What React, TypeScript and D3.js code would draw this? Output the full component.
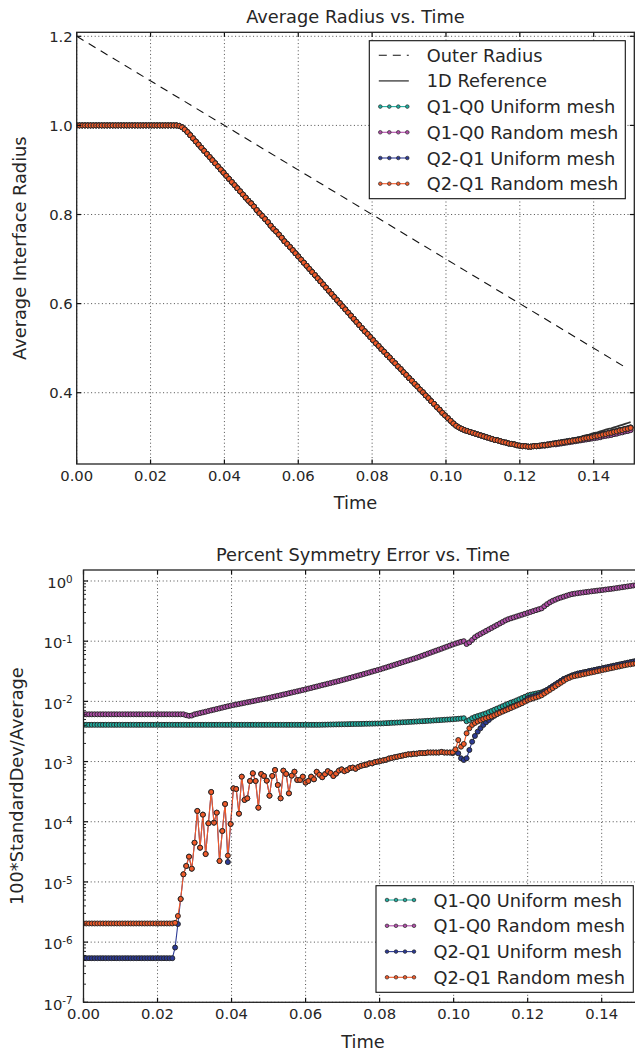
import React, { useEffect, useRef } from 'react';
import * as d3 from 'd3';

// time between saved frames of the run
const TIME_STEP = 0.00075;

const TIME_TICKS = [0, 0.02, 0.04, 0.06, 0.08, 0.1, 0.12, 0.14];
const RADIUS_TICKS = [0.4, 0.6, 0.8, 1.0, 1.2];
const ERROR_EXPONENTS = [-7, -6, -5, -4, -3, -2, -1, 0];

const MESH_LABELS = ['Q1-Q0 Uniform mesh', 'Q1-Q0 Random mesh', 'Q2-Q1 Uniform mesh', 'Q2-Q1 Random mesh'];
const MESH_COLORS = ['#1fad9f', '#b14da9', '#2c3a95', '#f15a29'];

// outer radius, dashed line: [time], [radius]
const outerRadiusTime = [0, 0.148];
const outerRadiusValue = [1.2, 0.46];

// average interface radius, identical for every run up to t ~ 0.125
const radiusCommon = [
  1, 1, 1, 1, 1, 1, 1, 1, 1, 1,
  1, 1, 1, 1, 1, 1, 1, 1, 1, 1,
  1, 1, 1, 1, 1, 1, 1, 1, 1, 1,
  1, 1, 1, 1, 1, 1, 1, 0.999, 0.996, 0.991,
  0.985, 0.978, 0.971, 0.964, 0.957, 0.950, 0.943, 0.936, 0.929, 0.922,
  0.915, 0.908, 0.901, 0.894, 0.887, 0.880, 0.873, 0.866, 0.859, 0.852,
  0.845, 0.838, 0.831, 0.825, 0.818, 0.810, 0.803, 0.797, 0.790, 0.783,
  0.775, 0.768, 0.762, 0.755, 0.748, 0.740, 0.734, 0.727, 0.720, 0.713,
  0.706, 0.699, 0.692, 0.685, 0.678, 0.671, 0.664, 0.657, 0.650, 0.643,
  0.636, 0.629, 0.622, 0.615, 0.608, 0.601, 0.594, 0.587, 0.580, 0.573,
  0.566, 0.559, 0.552, 0.545, 0.538, 0.532, 0.525, 0.518, 0.511, 0.505,
  0.498, 0.492, 0.485, 0.479, 0.472, 0.466, 0.459, 0.453, 0.446, 0.440,
  0.433, 0.427, 0.420, 0.414, 0.407, 0.401, 0.394, 0.388, 0.381, 0.375,
  0.368, 0.362, 0.355, 0.349, 0.343, 0.337, 0.331, 0.326, 0.322, 0.319,
  0.316, 0.314, 0.312, 0.310, 0.308, 0.306, 0.304, 0.302, 0.300, 0.298,
  0.296, 0.294, 0.293, 0.291, 0.289, 0.288, 0.286, 0.285, 0.284, 0.282,
  0.281, 0.280, 0.280, 0.279, 0.279, 0.280, 0.280,
];
// the last 34 frames, where the runs drift apart a little
const radiusTail1D = [
  0.282, 0.283, 0.284, 0.285, 0.286, 0.287, 0.289, 0.290, 0.291, 0.293,
  0.294, 0.295, 0.297, 0.298, 0.300, 0.301, 0.303, 0.305, 0.306, 0.308,
  0.310, 0.311, 0.313, 0.315, 0.317, 0.319, 0.320, 0.322, 0.324, 0.326,
  0.328, 0.330, 0.332, 0.334,
];
const radiusTailUniform = [
  0.281, 0.282, 0.283, 0.284, 0.285, 0.286, 0.287, 0.288, 0.289, 0.290,
  0.291, 0.292, 0.293, 0.294, 0.295, 0.296, 0.298, 0.299, 0.300, 0.301,
  0.303, 0.304, 0.305, 0.307, 0.308, 0.310, 0.311, 0.313, 0.314, 0.316,
  0.317, 0.319, 0.320, 0.322,
];
const radiusTailQ1Q0Random = [
  0.280, 0.281, 0.281, 0.282, 0.283, 0.284, 0.284, 0.285, 0.286, 0.287,
  0.288, 0.289, 0.290, 0.291, 0.292, 0.293, 0.294, 0.295, 0.296, 0.297,
  0.298, 0.299, 0.300, 0.302, 0.303, 0.304, 0.305, 0.307, 0.308, 0.310,
  0.311, 0.313, 0.314, 0.316,
];
const radiusTailQ2Q1Random = [
  0.281, 0.282, 0.282, 0.283, 0.284, 0.285, 0.286, 0.287, 0.288, 0.289,
  0.290, 0.291, 0.292, 0.293, 0.294, 0.295, 0.297, 0.298, 0.299, 0.300,
  0.302, 0.303, 0.304, 0.306, 0.307, 0.309, 0.310, 0.312, 0.313, 0.315,
  0.316, 0.318, 0.319, 0.321,
];

// symmetry error, read as log10 of 100*StandardDev/Average
const errQ1Q0UniformLog10 = [
  -2.39, -2.39, -2.39, -2.39, -2.39, -2.39, -2.39, -2.39, -2.39, -2.39,
  -2.39, -2.39, -2.39, -2.39, -2.39, -2.39, -2.39, -2.39, -2.39, -2.39,
  -2.39, -2.39, -2.39, -2.39, -2.39, -2.39, -2.39, -2.39, -2.39, -2.39,
  -2.39, -2.39, -2.39, -2.39, -2.39, -2.39, -2.39, -2.39, -2.39, -2.39,
  -2.39, -2.39, -2.39, -2.39, -2.39, -2.39, -2.39, -2.39, -2.39, -2.39,
  -2.39, -2.39, -2.39, -2.39, -2.39, -2.39, -2.39, -2.39, -2.39, -2.39,
  -2.39, -2.39, -2.39, -2.39, -2.39, -2.39, -2.39, -2.39, -2.39, -2.39,
  -2.39, -2.39, -2.39, -2.39, -2.39, -2.39, -2.39, -2.39, -2.39, -2.39,
  -2.39, -2.39, -2.39, -2.39, -2.39, -2.39, -2.388, -2.387, -2.386, -2.385,
  -2.384, -2.383, -2.382, -2.381, -2.38, -2.379, -2.378, -2.377, -2.376, -2.375,
  -2.374, -2.373, -2.372, -2.371, -2.37, -2.369, -2.368, -2.367, -2.365, -2.362,
  -2.36, -2.357, -2.355, -2.352, -2.35, -2.347, -2.345, -2.342, -2.34, -2.337,
  -2.335, -2.332, -2.33, -2.327, -2.324, -2.321, -2.318, -2.315, -2.312, -2.309,
  -2.306, -2.303, -2.30, -2.297, -2.293, -2.289, -2.285, -2.28, -2.33, -2.31,
  -2.28, -2.26, -2.245, -2.23, -2.215, -2.20, -2.18, -2.16, -2.14, -2.12,
  -2.10, -2.08, -2.06, -2.04, -2.02, -2.005, -1.985, -1.965, -1.945, -1.925,
  -1.905, -1.89, -1.88, -1.87, -1.86, -1.85, -1.83, -1.81, -1.78, -1.75,
  -1.72, -1.69, -1.66, -1.63, -1.61, -1.59, -1.57, -1.555, -1.54, -1.53,
  -1.52, -1.51, -1.50, -1.49, -1.48, -1.47, -1.46, -1.45, -1.44, -1.43,
  -1.42, -1.41, -1.40, -1.39, -1.38, -1.37, -1.36, -1.35, -1.34, -1.33,
  -1.32,
];
const errQ1Q0RandomLog10 = [
  -2.215, -2.215, -2.215, -2.215, -2.215, -2.215, -2.215, -2.215, -2.215, -2.215,
  -2.215, -2.215, -2.215, -2.215, -2.215, -2.215, -2.215, -2.215, -2.215, -2.215,
  -2.215, -2.215, -2.215, -2.215, -2.215, -2.215, -2.215, -2.215, -2.215, -2.215,
  -2.215, -2.215, -2.215, -2.215, -2.215, -2.215, -2.215, -2.23, -2.24, -2.235,
  -2.216, -2.205, -2.194, -2.183, -2.172, -2.160, -2.149, -2.138, -2.127, -2.116,
  -2.104, -2.093, -2.082, -2.071, -2.062, -2.053, -2.043, -2.034, -2.025, -2.015,
  -2.006, -1.997, -1.987, -1.978, -1.969, -1.960, -1.950, -1.940, -1.929, -1.918,
  -1.908, -1.897, -1.886, -1.876, -1.865, -1.854, -1.843, -1.833, -1.822, -1.811,
  -1.800, -1.788, -1.777, -1.765, -1.754, -1.742, -1.730, -1.719, -1.707, -1.696,
  -1.684, -1.672, -1.661, -1.649, -1.636, -1.623, -1.610, -1.597, -1.584, -1.571,
  -1.558, -1.545, -1.532, -1.519, -1.505, -1.492, -1.479, -1.466, -1.451, -1.437,
  -1.422, -1.407, -1.393, -1.378, -1.364, -1.349, -1.334, -1.320, -1.305, -1.290,
  -1.276, -1.259, -1.242, -1.225, -1.208, -1.191, -1.174, -1.157, -1.141, -1.124,
  -1.107, -1.090, -1.073, -1.056, -1.040, -1.025, -1.010, -1.000, -1.047, -1.02,
  -0.98, -0.935, -0.905, -0.88, -0.855, -0.83, -0.805, -0.78, -0.755, -0.73,
  -0.705, -0.68, -0.655, -0.635, -0.62, -0.605, -0.59, -0.575, -0.56, -0.545,
  -0.53, -0.515, -0.50, -0.485, -0.47, -0.455, -0.42, -0.385, -0.355, -0.33,
  -0.31, -0.29, -0.275, -0.26, -0.245, -0.23, -0.218, -0.21, -0.203, -0.196,
  -0.19, -0.184, -0.178, -0.172, -0.166, -0.16, -0.155, -0.149, -0.143, -0.137,
  -0.131, -0.125, -0.118, -0.111, -0.104, -0.097, -0.09, -0.083, -0.076, -0.069,
  -0.062,
];
const errQ2Q1UniformLog10 = [
  -6.267, -6.267, -6.267, -6.267, -6.267, -6.267, -6.267, -6.267, -6.267, -6.267,
  -6.267, -6.267, -6.267, -6.267, -6.267, -6.267, -6.267, -6.267, -6.267, -6.267,
  -6.267, -6.267, -6.267, -6.267, -6.267, -6.267, -6.267, -6.267, -6.267, -6.267,
  -6.267, -6.267, -6.267, -6.09, -5.70, -5.283, -4.873, -4.735, -4.58, -4.78,
  -4.348, -3.821, -4.431, -3.882, -4.536, -4.026, -3.506, -4.015, -3.849, -4.652,
  -4.154, -3.705, -4.67, -4.037, -3.445, -3.456, -3.866, -3.251, -3.638, -3.611,
  -3.323, -3.195, -3.323, -3.766, -3.206, -3.239, -3.317, -3.567, -3.239, -3.14,
  -3.389, -3.611, -3.151, -3.206, -3.528, -3.234, -3.168, -3.306, -3.306, -3.251,
  -3.35, -3.323, -3.251, -3.295, -3.17, -3.22, -3.26, -3.21, -3.16, -3.19,
  -3.24, -3.20, -3.15, -3.13, -3.16, -3.14, -3.11, -3.10, -3.12, -3.09,
  -3.07, -3.06, -3.05, -3.03, -3.03, -3.01, -3.00, -2.99, -2.98, -2.97,
  -2.95, -2.94, -2.93, -2.92, -2.91, -2.90, -2.89, -2.88, -2.88, -2.87,
  -2.87, -2.86, -2.86, -2.86, -2.85, -2.85, -2.85, -2.85, -2.85, -2.84,
  -2.85, -2.85, -2.85, -2.86, -2.835, -2.863, -2.946, -2.974, -2.946, -2.808,
  -2.67, -2.575, -2.503, -2.447, -2.392, -2.348, -2.31, -2.27, -2.24, -2.21,
  -2.18, -2.16, -2.14, -2.12, -2.10, -2.08, -2.06, -2.04, -2.02, -1.99,
  -1.95, -1.935, -1.92, -1.905, -1.89, -1.87, -1.84, -1.81, -1.78, -1.75,
  -1.72, -1.69, -1.66, -1.63, -1.61, -1.59, -1.57, -1.555, -1.54, -1.53,
  -1.52, -1.51, -1.50, -1.49, -1.48, -1.47, -1.46, -1.45, -1.44, -1.43,
  -1.42, -1.41, -1.40, -1.39, -1.38, -1.37, -1.36, -1.35, -1.34, -1.33,
  -1.32,
];
const errQ2Q1RandomLog10 = [
  -5.69, -5.69, -5.69, -5.69, -5.69, -5.69, -5.69, -5.69, -5.69, -5.69,
  -5.69, -5.69, -5.69, -5.69, -5.69, -5.69, -5.69, -5.69, -5.69, -5.69,
  -5.69, -5.69, -5.69, -5.69, -5.69, -5.69, -5.69, -5.69, -5.69, -5.69,
  -5.69, -5.69, -5.69, -5.68, -5.566, -5.283, -4.873, -4.735, -4.58, -4.78,
  -4.348, -3.821, -4.431, -3.882, -4.536, -4.026, -3.506, -4.015, -3.849, -4.652,
  -4.154, -3.705, -4.563, -4.037, -3.445, -3.456, -3.866, -3.251, -3.638, -3.611,
  -3.323, -3.195, -3.323, -3.766, -3.206, -3.239, -3.317, -3.567, -3.239, -3.14,
  -3.389, -3.611, -3.151, -3.206, -3.528, -3.234, -3.168, -3.306, -3.306, -3.251,
  -3.35, -3.323, -3.251, -3.295, -3.17, -3.22, -3.26, -3.21, -3.16, -3.19,
  -3.24, -3.20, -3.15, -3.13, -3.16, -3.14, -3.11, -3.10, -3.12, -3.09,
  -3.07, -3.06, -3.05, -3.03, -3.03, -3.01, -3.00, -2.99, -2.98, -2.97,
  -2.95, -2.94, -2.93, -2.92, -2.91, -2.90, -2.89, -2.88, -2.88, -2.87,
  -2.87, -2.86, -2.86, -2.86, -2.85, -2.85, -2.85, -2.85, -2.85, -2.84,
  -2.85, -2.85, -2.85, -2.846, -2.797, -2.642, -2.753, -2.708, -2.53, -2.447,
  -2.392, -2.36, -2.335, -2.315, -2.295, -2.28, -2.265, -2.25, -2.23, -2.21,
  -2.19, -2.17, -2.15, -2.13, -2.11, -2.09, -2.07, -2.05, -2.03, -2.005,
  -1.98, -1.965, -1.95, -1.935, -1.92, -1.90, -1.87, -1.84, -1.81, -1.78,
  -1.75, -1.72, -1.69, -1.66, -1.63, -1.61, -1.59, -1.58, -1.57, -1.56,
  -1.55, -1.54, -1.53, -1.52, -1.51, -1.50, -1.49, -1.48, -1.47, -1.46,
  -1.45, -1.44, -1.43, -1.42, -1.41, -1.40, -1.39, -1.385, -1.375, -1.37,
  -1.36,
];

const FONT = 'DejaVu Sans';
const INK = '#262626';
const LABEL_SIZE = 17.8;
const TICK_SIZE = 14.8;

const W = 635;
const H = 1053;
const TOP_BOX = { left: 76.7, right: 634.3, top: 32.3, bottom: 464 };
const BOT_BOX = { left: 83.5, right: 642.4, top: 570, bottom: 1002.3 };

function drawFrame(g, box, x, y, yTicks, minorTicks, fmtY, clipId) {
  g.append('clipPath').attr('id', clipId)
    .append('rect')
    .attr('x', box.left).attr('y', box.top)
    .attr('width', box.right - box.left).attr('height', box.bottom - box.top);

  // dotted grid
  const grid = g.append('g').attr('class', 'grid')
    .attr('stroke', '#3a3a3a').attr('stroke-width', 0.9).attr('stroke-dasharray', '1,2.6');
  TIME_TICKS.forEach(t => {
    grid.append('line').attr('x1', x(t)).attr('x2', x(t)).attr('y1', box.top).attr('y2', box.bottom);
  });
  yTicks.forEach(v => {
    grid.append('line').attr('x1', box.left).attr('x2', box.right).attr('y1', y(v)).attr('y2', y(v));
  });

  // ticks point inward on all four sides
  const ticks = g.append('g').attr('stroke', '#111').attr('stroke-width', 1.2);
  TIME_TICKS.forEach(t => {
    ticks.append('line').attr('x1', x(t)).attr('x2', x(t)).attr('y1', box.bottom).attr('y2', box.bottom - 4.5);
    ticks.append('line').attr('x1', x(t)).attr('x2', x(t)).attr('y1', box.top).attr('y2', box.top + 4.5);
  });
  yTicks.forEach(v => {
    ticks.append('line').attr('x1', box.left).attr('x2', box.left + 4.5).attr('y1', y(v)).attr('y2', y(v));
    ticks.append('line').attr('x1', box.right).attr('x2', box.right - 4.5).attr('y1', y(v)).attr('y2', y(v));
  });
  minorTicks.forEach(v => {
    ticks.append('line').attr('x1', box.left).attr('x2', box.left + 2.5).attr('y1', y(v)).attr('y2', y(v)).attr('stroke-width', 0.9);
    ticks.append('line').attr('x1', box.right).attr('x2', box.right - 2.5).attr('y1', y(v)).attr('y2', y(v)).attr('stroke-width', 0.9);
  });

  // spines
  g.append('rect')
    .attr('x', box.left).attr('y', box.top)
    .attr('width', box.right - box.left).attr('height', box.bottom - box.top)
    .attr('fill', 'none').attr('stroke', '#222').attr('stroke-width', 1.3);

  // tick labels
  const labels = g.append('g').attr('font-family', FONT).attr('font-size', TICK_SIZE).attr('fill', INK);
  TIME_TICKS.forEach(t => {
    labels.append('text').attr('x', x(t)).attr('y', box.bottom + 16.5)
      .attr('text-anchor', 'middle').text(d3.format('.2f')(t));
  });
  yTicks.forEach(v => fmtY(labels, box.left, y(v), v));
}

function drawMesh(g, x, y, values, color, clipId) {
  const line = d3.line().x((d, i) => x(i * TIME_STEP)).y(d => y(d));
  const layer = g.append('g').attr('clip-path', `url(#${clipId})`);
  layer.append('path').datum(values).attr('d', line)
    .attr('fill', 'none').attr('stroke', color).attr('stroke-width', 1.1);
  layer.selectAll(null).data(values).enter().append('circle')
    .attr('cx', (d, i) => x(i * TIME_STEP)).attr('cy', d => y(d))
    .attr('r', 2.5).attr('fill', color).attr('stroke', '#262626').attr('stroke-width', 0.95);
}

function drawLegend(g, left, top, right, rowBaselines, entries) {
  const bottom = rowBaselines[rowBaselines.length - 1] + 6.5;
  g.append('rect').attr('x', left).attr('y', top).attr('width', right - left).attr('height', bottom - top + 2)
    .attr('fill', '#fff').attr('stroke', '#111').attr('stroke-width', 1.1);
  entries.forEach((e, k) => {
    const cy = rowBaselines[k] - 6.5;
    const hx = left + 9.5;
    const row = g.append('g');
    if (e.kind === 'dash') {
      row.append('line').attr('x1', hx).attr('x2', hx + 30).attr('y1', cy).attr('y2', cy)
        .attr('stroke', '#111').attr('stroke-width', 1.1).attr('stroke-dasharray', '8,6');
    } else if (e.kind === 'solid') {
      row.append('line').attr('x1', hx).attr('x2', hx + 30).attr('y1', cy).attr('y2', cy)
        .attr('stroke', '#444').attr('stroke-width', 1.4);
    } else {
      row.append('line').attr('x1', hx).attr('x2', hx + 30).attr('y1', cy).attr('y2', cy)
        .attr('stroke', e.color).attr('stroke-width', 1.1);
      [0, 1, 2, 3].forEach(j => {
        row.append('circle').attr('cx', hx + 1.5 + j * 9).attr('cy', cy).attr('r', 1.8)
          .attr('fill', e.color).attr('stroke', '#2a2a2a').attr('stroke-width', 0.7);
      });
    }
    row.append('text').attr('x', left + 57.5).attr('y', rowBaselines[k])
      .attr('font-family', FONT).attr('font-size', LABEL_SIZE).attr('fill', INK).text(e.label);
  });
}

function drawRadiusPanel(svg) {
  const box = TOP_BOX;
  const x = d3.scaleLinear().domain([0, 0.151]).range([box.left, box.right]);
  const y = d3.scaleLinear().domain([0.24, 1.209]).range([box.bottom, box.top]);
  const g = svg.append('g');

  const series = [
    radiusCommon.concat(radiusTailUniform),
    radiusCommon.concat(radiusTailQ1Q0Random),
    radiusCommon.concat(radiusTailUniform),
    radiusCommon.concat(radiusTailQ2Q1Random),
  ];
  const reference = radiusCommon.concat(radiusTail1D);

  const data = g.append('g');
  const frame = g.append('g');
  drawFrame(frame, box, x, y, RADIUS_TICKS, [], (lg, left, py, v) => {
    lg.append('text').attr('x', left - 4).attr('y', py + 5.3).attr('text-anchor', 'end').text(d3.format('.1f')(v));
  }, 'clip-radius');

  const dl = data.append('g').attr('clip-path', 'url(#clip-radius)');
  dl.append('path')
    .datum(outerRadiusTime.map((t, i) => [t, outerRadiusValue[i]]))
    .attr('d', d3.line().x(d => x(d[0])).y(d => y(d[1])))
    .attr('fill', 'none').attr('stroke', '#111').attr('stroke-width', 1.1).attr('stroke-dasharray', '8,6');
  dl.append('path').datum(reference)
    .attr('d', d3.line().x((d, i) => x(i * TIME_STEP)).y(d => y(d)))
    .attr('fill', 'none').attr('stroke', '#333').attr('stroke-width', 1.8);
  series.forEach((vals, k) => drawMesh(data, x, y, vals, MESH_COLORS[k], 'clip-radius'));

  // move grid/ticks/spines above data, like the original
  g.node().appendChild(frame.node());

  g.append('text').attr('x', (box.left + box.right) / 2).attr('y', 22.7)
    .attr('text-anchor', 'middle').attr('font-family', FONT).attr('font-size', LABEL_SIZE).attr('fill', INK)
    .text('Average Radius vs. Time');
  g.append('text').attr('x', (box.left + box.right) / 2).attr('y', 509.3)
    .attr('text-anchor', 'middle').attr('font-family', FONT).attr('font-size', LABEL_SIZE).attr('fill', INK)
    .text('Time');
  g.append('text').attr('transform', `translate(26,${(box.top + box.bottom) / 2}) rotate(-90)`)
    .attr('text-anchor', 'middle').attr('font-family', FONT).attr('font-size', LABEL_SIZE).attr('fill', INK)
    .text('Average Interface Radius');

  drawLegend(g, 369.3, 40.7, 625.3, [61.7, 87.4, 113.1, 138.8, 164.5, 190.2], [
    { kind: 'dash', label: 'Outer Radius' },
    { kind: 'solid', label: '1D Reference' },
    ...MESH_LABELS.map((label, k) => ({ kind: 'mesh', label, color: MESH_COLORS[k] })),
  ]);
}

function drawErrorPanel(svg) {
  const box = BOT_BOX;
  const x = d3.scaleLinear().domain([0, 0.151]).range([box.left, box.right]);
  const y = d3.scaleLog().domain([1e-7, 1.523]).range([box.bottom, box.top]);
  const g = svg.append('g');

  const majors = ERROR_EXPONENTS.map(e => Math.pow(10, e));
  const minors = [];
  ERROR_EXPONENTS.forEach(e => {
    for (let m = 2; m <= 9; m++) {
      const v = m * Math.pow(10, e);
      if (v < 1.523) minors.push(v);
    }
  });

  const series = [errQ1Q0UniformLog10, errQ1Q0RandomLog10, errQ2Q1UniformLog10, errQ2Q1RandomLog10]
    .map(s => s.map(e => Math.pow(10, e)));

  const data = g.append('g');
  const frame = g.append('g');
  drawFrame(frame, box, x, y, majors, minors, (lg, left, py, v) => {
    const exp = Math.round(Math.log10(v));
    const t = lg.append('text').attr('x', left - 10.8).attr('y', py + 7.3).attr('text-anchor', 'end');
    t.append('tspan').text('10');
    t.append('tspan').attr('dy', -5.2).attr('font-size', 10.4).text(String(exp));
  }, 'clip-error');
  series.forEach((vals, k) => drawMesh(data, x, y, vals, MESH_COLORS[k], 'clip-error'));
  g.node().appendChild(frame.node());

  const cx = (box.left + box.right) / 2;
  g.append('text').attr('x', cx).attr('y', 560.7)
    .attr('text-anchor', 'middle').attr('font-family', FONT).attr('font-size', LABEL_SIZE).attr('fill', INK)
    .text('Percent Symmetry Error vs. Time');
  g.append('text').attr('x', cx).attr('y', 1048)
    .attr('text-anchor', 'middle').attr('font-family', FONT).attr('font-size', LABEL_SIZE).attr('fill', INK)
    .text('Time');
  g.append('text').attr('transform', `translate(23,${(box.top + box.bottom) / 2}) rotate(-90)`)
    .attr('text-anchor', 'middle').attr('font-family', FONT).attr('font-size', LABEL_SIZE).attr('fill', INK)
    .text('100*StandardDev/Average');

  drawLegend(g, 376, 885.7, 633.3, [906.5, 932.3, 958.1, 983.8],
    MESH_LABELS.map((label, k) => ({ kind: 'mesh', label, color: MESH_COLORS[k] })));
}

const App = () => {
  const svgRef = useRef(null);

  useEffect(() => {
    const svg = d3.select(svgRef.current);
    svg.selectAll('*').remove();
    svg.append('rect').attr('width', W).attr('height', H).attr('fill', '#fff');
    drawRadiusPanel(svg);
    drawErrorPanel(svg);
  }, []);

  return (
    <svg ref={svgRef} width={W} height={H}
      style={{ position: 'absolute', left: 0, top: 0, display: 'block' }} />
  );
};

export default App;
